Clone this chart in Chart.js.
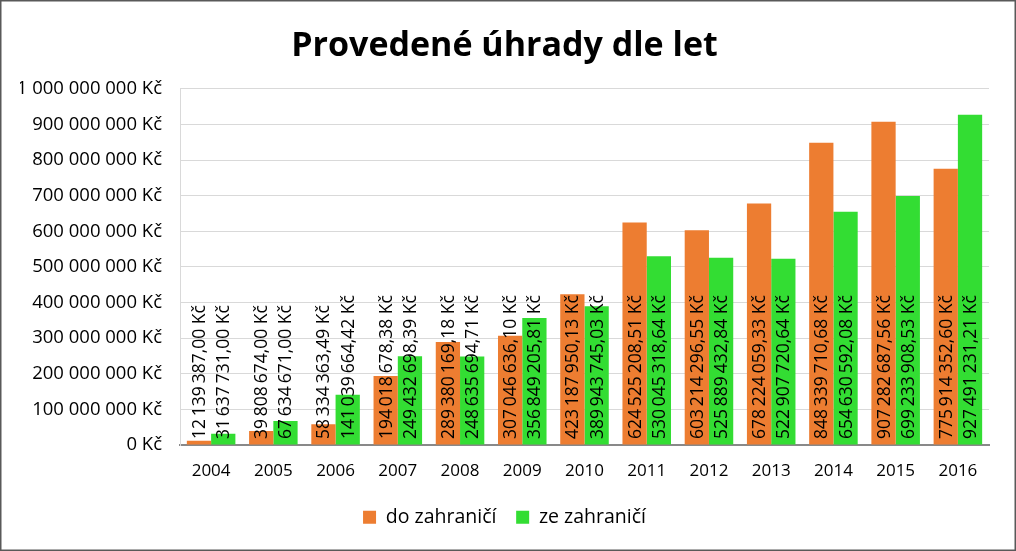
<!DOCTYPE html>
<html>
<head>
<meta charset="utf-8">
<script src="https://cdn.jsdelivr.net/npm/chart.js@4/dist/chart.umd.min.js"></script>
<style>
html,body{margin:0;padding:0;background:#fff;}
#wrap{width:1016px;height:551px;position:relative;}
</style>
</head>
<body>
<div id="wrap"><canvas id="c" width="1016" height="551"></canvas></div>
<script>
const years = ['2004','2005','2006','2007','2008','2009','2010','2011','2012','2013','2014','2015','2016'];
const doZahranici = [12139387.00, 39808674.00, 58334363.49, 194018678.38, 289380169.18, 307046636.10, 423187950.13, 624525208.51, 603214296.55, 678224059.33, 848339710.68, 907282687.56, 775914352.60];
const zeZahranici = [31637731.00, 67634671.00, 141039664.42, 249432698.39, 248635694.71, 356849205.81, 389943745.03, 530045318.64, 525889432.84, 522907720.64, 654630592.08, 699233908.53, 927491231.21];
const seriesNames = ['do zahraničí', 'ze zahraničí'];
const titleText = 'Provedené úhrady dle let';

const FONT = '"Open Sans", Lato, sans-serif';

function groupDigits(intStr, sep) {
  return intStr.replace(/\B(?=(\d{3})+(?!\d))/g, sep);
}
function fmtTick(v) {
  return groupDigits(String(Math.round(v)), ' ') + ' Kč';
}
function fmtLabel(v) {
  const parts = v.toFixed(2).split('.');
  return groupDigits(parts[0], '\u2009') + ',' + parts[1] + ' Kč';
}

const labelPlugin = {
  id: 'barLabels',
  afterDatasetsDraw(chart) {
    const ctx = chart.ctx;
    const yScale = chart.scales.y;
    const base = yScale.getPixelForValue(0);
    chart.data.datasets.forEach((ds, di) => {
      const meta = chart.getDatasetMeta(di);
      meta.data.forEach((bar, i) => {
        ctx.save();
        ctx.translate(bar.x, base - 6);
        ctx.rotate(-Math.PI / 2);
        ctx.font = '17.5px ' + FONT;
        ctx.fillStyle = '#000';
        ctx.textAlign = 'left';
        ctx.textBaseline = 'middle';
        ctx.fillText(fmtLabel(ds.data[i]), 0, 1);
        ctx.restore();
      });
    });
  }
};

const borderPlugin = {
  id: 'outerBorder',
  beforeDraw(chart) {
    const ctx = chart.ctx;
    ctx.save();
    ctx.fillStyle = '#fff';
    ctx.fillRect(0, 0, chart.width, chart.height);
    ctx.restore();
  },
  afterDraw(chart) {
    const ctx = chart.ctx;
    ctx.save();
    ctx.strokeStyle = '#595959';
    ctx.lineWidth = 1.5;
    ctx.strokeRect(0.75, 0.75, chart.width - 1.5, chart.height - 1.5);
    ctx.restore();
  }
};

new Chart(document.getElementById('c'), {
  type: 'bar',
  data: {
    labels: years,
    datasets: [
      { label: seriesNames[0], data: doZahranici, backgroundColor: '#ED7D31', categoryPercentage: 0.78, barPercentage: 1.0 },
      { label: seriesNames[1], data: zeZahranici, backgroundColor: '#33DD33', categoryPercentage: 0.78, barPercentage: 1.0 }
    ]
  },
  options: {
    responsive: false,
    animation: false,
    devicePixelRatio: 1,
    layout: { padding: { left: 20, right: 27, top: 12, bottom: 14 } },
    plugins: {
      title: {
        display: true,
        text: titleText,
        color: '#000',
        font: { family: FONT, size: 34, weight: 'bold' },
        padding: { top: 14, bottom: 22 }
      },
      legend: {
        position: 'bottom',
        labels: {
          color: '#000',
          font: { family: FONT, size: 19.5 },
          boxWidth: 13,
          boxHeight: 13,
          padding: 10,
          generateLabels(chart) {
            const items = Chart.defaults.plugins.legend.labels.generateLabels(chart);
            items.forEach((it, idx) => {
              if (idx < items.length - 1) it.text = it.text + '\u2002';
            });
            return items;
          }
        }
      },
      tooltip: { enabled: false }
    },
    scales: {
      x: {
        grid: { display: false, drawTicks: false },
        border: { color: '#898989', width: 2 },
        ticks: { color: '#000', font: { family: FONT, size: 17 }, padding: 16 }
      },
      y: {
        min: 0,
        max: 1000000000,
        afterFit(scale) { scale.width = 160; },
        grid: { color: '#D9D9D9', drawTicks: false },
        border: { color: '#D9D9D9', width: 1 },
        ticks: {
          stepSize: 100000000,
          color: '#000',
          font: { family: FONT, size: 18.5 },
          padding: 18,
          callback: (v) => fmtTick(v)
        }
      }
    }
  },
  plugins: [labelPlugin, borderPlugin]
});
</script>
</body>
</html>
